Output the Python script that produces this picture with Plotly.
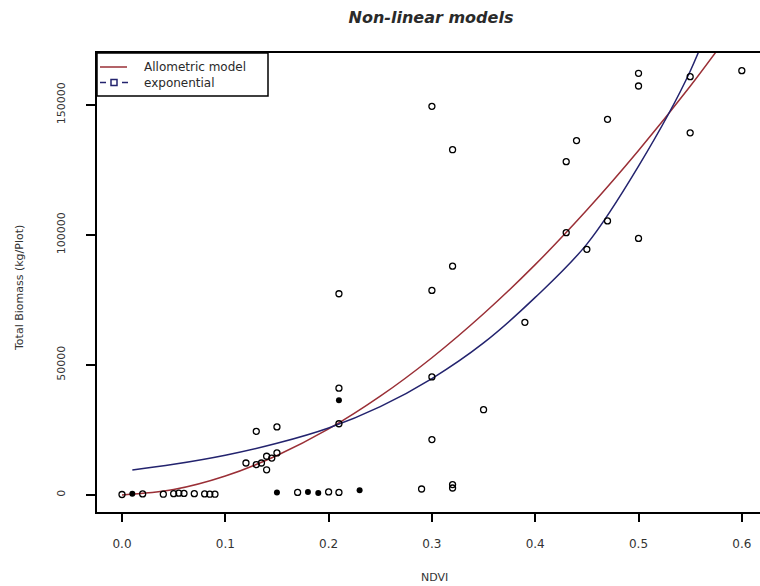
import plotly.graph_objects as go

# ---- data ----
ndvi_open = [0.00, 0.02, 0.04, 0.05, 0.055, 0.06, 0.07, 0.08, 0.085, 0.09,
             0.12, 0.13, 0.135, 0.14, 0.14, 0.145, 0.15, 0.13, 0.15,
             0.17, 0.20, 0.21, 0.29, 0.32, 0.32,
             0.21, 0.21, 0.21, 0.30, 0.30, 0.30, 0.30, 0.32, 0.32, 0.35, 0.39,
             0.43, 0.43, 0.44, 0.45, 0.47, 0.47, 0.50, 0.50, 0.50, 0.55, 0.55, 0.60]
biomass_open = [200, 400, 300, 500, 700, 600, 500, 400, 300, 300,
                12300, 11700, 12300, 9700, 14900, 14200, 16200, 24500, 26200,
                1000, 1200, 1000, 2300, 4000, 2700,
                77400, 41100, 27400, 149500, 78700, 45400, 21300, 132800, 88000, 32800, 66400,
                128200, 100900, 136300, 94500, 144500, 105400, 162200, 157300, 98700, 139300, 160900, 163200]

ndvi_filled = [0.01, 0.15, 0.18, 0.19, 0.21, 0.23]
biomass_filled = [500, 1000, 1200, 800, 36400, 1800]

allo_x = [0.00, 0.05, 0.10, 0.15, 0.20, 0.25, 0.30, 0.35, 0.40, 0.45, 0.50, 0.55, 0.60]
allo_y = [0, 2100, 7300, 15200, 25400, 38000, 52800, 69700, 88600, 109600, 132500, 157200, 184000]

expo_x = [0.01, 0.05, 0.10, 0.15, 0.20, 0.25, 0.30, 0.35, 0.40, 0.45, 0.50, 0.55, 0.60]
expo_y = [9600, 11800, 15300, 19900, 25800, 34000, 44800, 58500, 76000, 96500, 126500, 163000, 215000]

x_ticks = [0.0, 0.1, 0.2, 0.3, 0.4, 0.5, 0.6]
x_tick_labels = ["0.0", "0.1", "0.2", "0.3", "0.4", "0.5", "0.6"]
y_ticks = [0, 50000, 100000, 150000]
y_tick_labels = ["0", "50000", "100000", "150000"]
legend_labels = ["Allometric model", "exponential"]

RED = "#9a2f36"
BLUE = "#23236e"
FONT = "DejaVu Sans"
TXT = "#2a2a2a"

# plot area in page pixels
L, R, T, B = 97, 760, 53, 512
W, H = R - L, B - T


def px(xp):
    return (xp - L) / W


def py(yp):
    return (B - yp) / H


fig = go.Figure()

fig.add_trace(go.Scatter(x=allo_x, y=allo_y, mode="lines", line=dict(color=RED, width=1.5, shape="spline"),
                         name=legend_labels[0], showlegend=False, hoverinfo="skip"))
fig.add_trace(go.Scatter(x=expo_x, y=expo_y, mode="lines", line=dict(color=BLUE, width=1.5, shape="spline"),
                         name=legend_labels[1], showlegend=False, hoverinfo="skip"))
fig.add_trace(go.Scatter(x=ndvi_open, y=biomass_open, mode="markers",
                         marker=dict(symbol="circle-open", size=6, color="black", line=dict(width=1.3, color="black")),
                         showlegend=False, cliponaxis=False))
fig.add_trace(go.Scatter(x=ndvi_filled, y=biomass_filled, mode="markers",
                         marker=dict(symbol="circle", size=6, color="black"),
                         showlegend=False))

# ---- legend box (R style) ----
shapes = [
    dict(type="rect", xref="paper", yref="paper", x0=px(97), x1=px(268), y0=py(96), y1=py(53),
         line=dict(color="black", width=1.5), fillcolor="white", layer="above"),
    dict(type="line", xref="paper", yref="paper", x0=px(100), x1=px(127), y0=py(67), y1=py(67),
         line=dict(color=RED, width=1.5), layer="above"),
    dict(type="line", xref="paper", yref="paper", x0=px(100), x1=px(106), y0=py(82.5), y1=py(82.5),
         line=dict(color=BLUE, width=1.5), layer="above"),
    dict(type="line", xref="paper", yref="paper", x0=px(122), x1=px(128), y0=py(82.5), y1=py(82.5),
         line=dict(color=BLUE, width=1.5), layer="above"),
    dict(type="rect", xref="paper", yref="paper", x0=px(111), x1=px(117), y0=py(85.5), y1=py(79.5),
         line=dict(color=BLUE, width=1.5), fillcolor="white", layer="above"),
]
for s in shapes:
    fig.add_shape(**s)
for lab, yp in zip(legend_labels, [67, 82.5]):
    fig.add_annotation(text=lab, xref="paper", yref="paper", x=px(142), y=py(yp), xanchor="left", yanchor="middle",
                       showarrow=False, font=dict(size=12, family=FONT, color=TXT))

fig.update_layout(
    width=760, height=586,
    margin=dict(l=L, r=760 - R, t=T, b=586 - B),
    paper_bgcolor="white", plot_bgcolor="white",
    font=dict(family=FONT, color=TXT),
    title=dict(text="<b><i>Non-linear models</i></b>", x=431 / 760, xanchor="center", y=1 - 17 / 586,
               yanchor="middle", font=dict(size=16, family=FONT, color=TXT)),
    showlegend=False,
)

fig.update_xaxes(range=[-0.0242, 0.6176], tickvals=x_ticks, ticktext=x_tick_labels,
                 showgrid=False, zeroline=False, showline=True, mirror=True, linecolor="black", linewidth=1.5,
                 ticks="outside", ticklen=8, tickwidth=1.5, tickcolor="black",
                 tickfont=dict(size=12, family=FONT, color="#333333"), ticklabelstandoff=12)
fig.update_yaxes(range=[-6540, 170000], tickvals=y_ticks, ticktext=y_tick_labels, tickangle=-90,
                 showgrid=False, zeroline=False, showline=True, mirror=False, linecolor="black", linewidth=1.5,
                 ticks="outside", ticklen=9, tickwidth=1.5, tickcolor="black",
                 tickfont=dict(size=11, family=FONT, color="#333333"), ticklabelstandoff=17)

fig.add_annotation(text="NDVI", xref="paper", yref="paper", x=px(434), y=py(577),
                   showarrow=False, xanchor="center", yanchor="middle",
                   font=dict(size=11, family=FONT, color="#333333"))
fig.add_annotation(text="Total Biomass (kg/Plot)", xref="paper", yref="paper", x=px(19), y=py(288),
                   showarrow=False, xanchor="center", yanchor="middle", textangle=-90,
                   font=dict(size=11, family=FONT, color="#333333"))

fig.write_html("out.html", config={"displayModeBar": False},
               post_script="document.body.style.margin='0px';")
